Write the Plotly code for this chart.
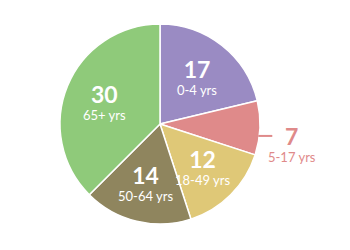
import math
import plotly.graph_objects as go

labels = ["0-4 yrs", "5-17 yrs", "18-49 yrs", "50-64 yrs", "65+ yrs"]
values = [17, 7, 12, 14, 30]
colors = ["#9a8bc3", "#df8a8a", "#dfc877", "#8f855e", "#8fca7a"]
outside = [False, True, False, False, False]

FONT = "Lato"

fig = go.Figure(go.Pie(
    labels=labels,
    values=values,
    sort=False,
    direction="clockwise",
    rotation=0,
    marker=dict(colors=colors, line=dict(color="#ffffff", width=1.5)),
    textinfo="none",
    showlegend=False,
    hoverinfo="skip",
    domain=dict(x=[0, 1], y=[0, 1]),
))

# plot area is 200x200 px, pie fills it; radius = 0.5 in paper units
total = sum(values)
cum = 0
for lab, val, col, out in zip(labels, values, colors, outside):
    mid = (cum + val / 2) / total * 2 * math.pi
    cum += val
    sx, sy = math.sin(mid), math.cos(mid)
    txt = f"<b><span style='font-size:23px'>{val}</span></b><br>{lab}"
    common = dict(xref="paper", yref="paper", showarrow=False,
                  xanchor="center", yanchor="middle", text=txt)
    if not out:
        px = 0.5 + 0.6 * 0.5 * sx
        py = 0.5 + 0.6 * 0.5 * sy
        fig.add_annotation(x=px, y=py,
                           font=dict(family=FONT, size=13, color="#ffffff"), **common)
    else:
        ey = 0.5 + 0.5 * sy - 0.04
        ex = 0.5 + math.sqrt(max(0.25 - (ey - 0.5) ** 2, 0))
        fig.add_shape(type="line", xref="paper", yref="paper",
                      x0=ex - 0.005, x1=ex + 0.065, y0=ey, y1=ey,
                      line=dict(color=col, width=2))
        lx = ex + 0.165
        fig.add_annotation(x=lx, y=ey, yshift=-8,
                           font=dict(family=FONT, size=13, color=col), **common)

fig.update_layout(
    width=350, height=250,
    margin=dict(l=60, r=90, t=24, b=26),
    paper_bgcolor="#ffffff",
    plot_bgcolor="#ffffff",
)

fig.write_html("out.html")
